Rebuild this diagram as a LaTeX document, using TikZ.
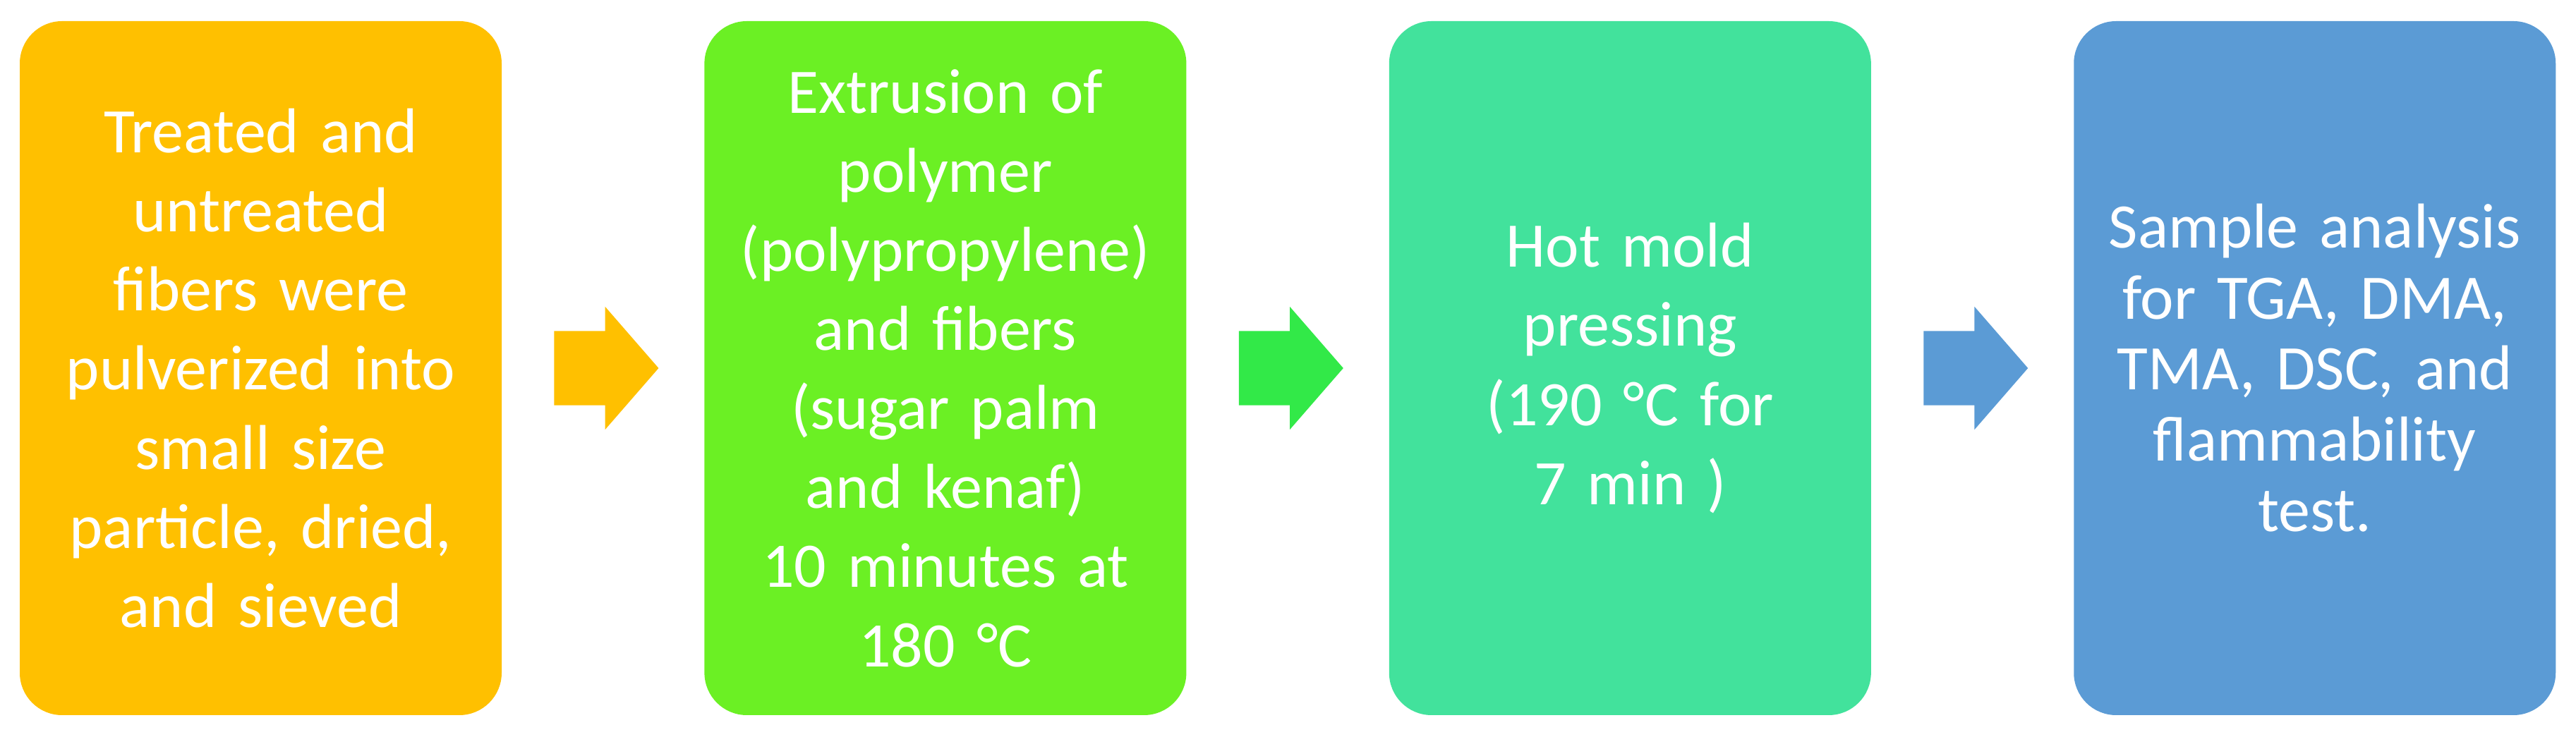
\documentclass[tikz,border=0pt]{standalone}
\usepackage{fontspec}
\setmainfont{Carlito}
\usetikzlibrary{positioning,shapes.arrows}

\definecolor{stepone}{RGB}{255,192,0}
\definecolor{steptwo}{RGB}{107,240,36}
\definecolor{stepthree}{RGB}{66,226,156}
\definecolor{stepfour}{RGB}{91,155,213}
\definecolor{arrowtwo}{RGB}{50,233,72}

\tikzset{
  procbox/.style={rounded corners=0.6cm, minimum width=6.83cm, minimum height=9.84cm,
    text width=6.6cm, align=center, text=white, inner sep=0pt,
    font=\fontsize{25.6}{31.9}\selectfont},
  blockarrow/.style={single arrow, minimum height=1.48cm, inner xsep=0pt, inner ysep=0.52cm,
    single arrow head extend=0.345cm, single arrow tip angle=98},
}

\begin{document}
\begin{tikzpicture}
    \useasboundingbox (0,0) rectangle (36.51,10.45);
    \node[procbox, fill=stepone] (b1) at (3.695,5.23)
      {Treated and\\ untreated\\ fibers were\\ pulverized into\\ small size\\ particle, dried,\\ and sieved};
    \node[procbox, fill=steptwo, right=2.86cm of b1] (b2)
      {Extrusion of\\ polymer\\ (polypropylene)\\ and fibers\\ (sugar palm\\ and kenaf)\\ 10 minutes at\\ 180 °C};
    \node[procbox, fill=stepthree, right=2.86cm of b2] (b3)
      {Hot mold\\ pressing\\ (190 °C for\\ 7 min )};
    \node[procbox, fill=stepfour, right=2.86cm of b3, font=\fontsize{25.6}{28.6}\selectfont] (b4)
      {Sample analysis\\ for TGA, DMA,\\ TMA, DSC, and\\ flammability\\ test.};
    \node[blockarrow, fill=stepone, right=0.73cm of b1] (a1) {};
    \node[blockarrow, fill=arrowtwo, right=0.73cm of b2] (a2) {};
    \node[blockarrow, fill=stepfour, right=0.73cm of b3] (a3) {};
\end{tikzpicture}
\end{document}
